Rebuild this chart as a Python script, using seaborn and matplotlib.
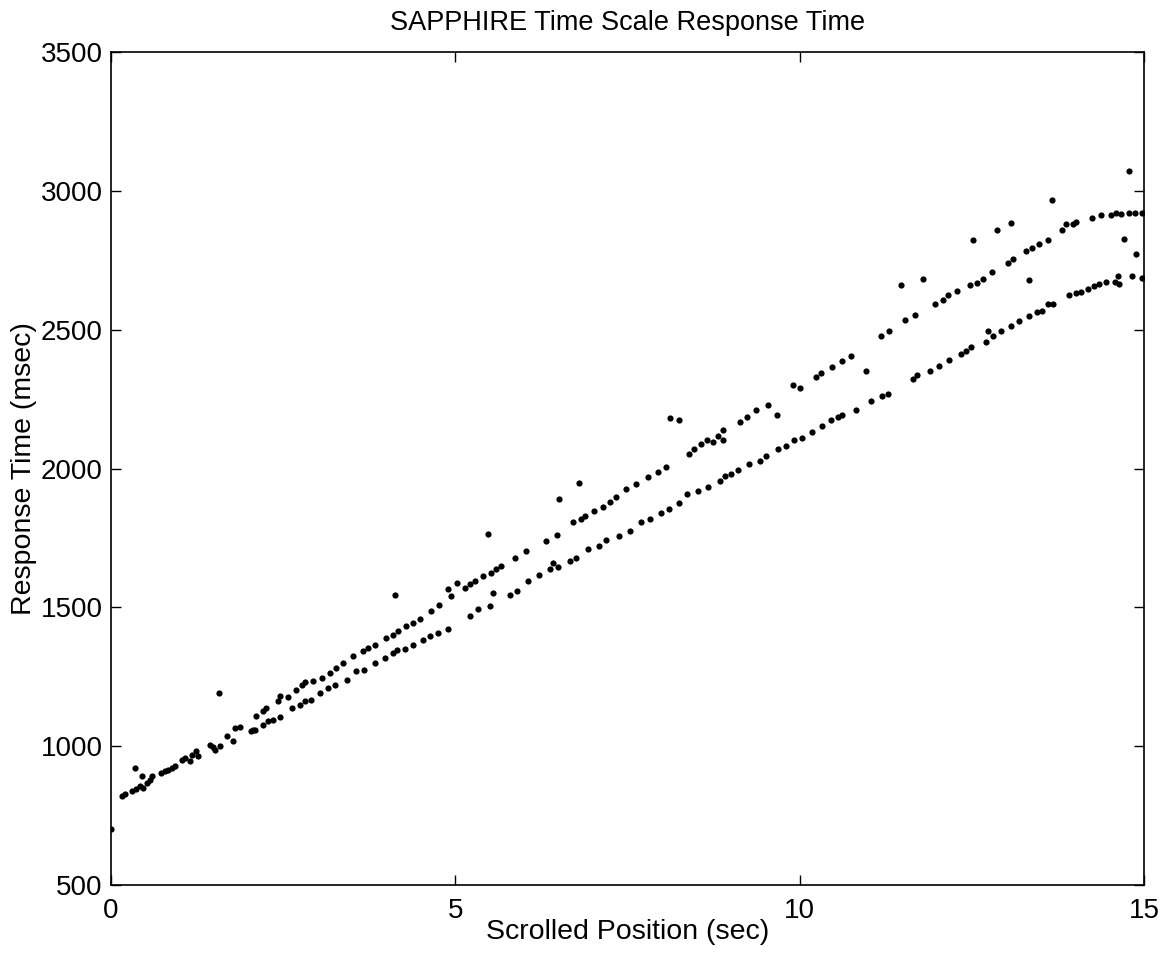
import seaborn as sns
import matplotlib.pyplot as plt
import pandas as pd

# valores (posicao em seg, tempo de resposta em ms)
posicao = [
    0.00, 0.155, 0.20, 0.30, 0.35, 0.37, 0.42, 0.445, 0.47, 0.52, 0.566, 0.59,
    0.73, 0.78, 0.83, 0.88, 0.93, 1.03, 1.07, 1.15, 1.17, 1.24, 1.27, 1.44,
    1.48, 1.51, 1.57, 1.58, 1.68, 1.77, 1.80, 1.87, 2.04, 2.06, 2.09, 2.11,
    2.20, 2.21, 2.25, 2.28, 2.35, 2.43, 2.45, 2.46, 2.57, 2.63, 2.69, 2.74,
    2.77, 2.81, 2.81, 2.91, 2.94, 3.03, 3.06, 3.15, 3.18, 3.25, 3.27, 3.37,
    3.42, 3.52, 3.56, 3.66, 3.68, 3.73, 3.83, 3.83, 3.98, 4.00, 4.10, 4.10,
    4.13, 4.15, 4.17, 4.27, 4.29, 4.39, 4.39, 4.48, 4.53, 4.63, 4.65, 4.75,
    4.77, 4.89, 4.90, 4.94, 5.02, 5.14, 5.21, 5.21, 5.28, 5.33, 5.40, 5.48,
    5.50, 5.52, 5.54, 5.59, 5.67, 5.79, 5.86, 5.89, 6.03, 6.05, 6.22, 6.32,
    6.37, 6.42, 6.47, 6.49, 6.51, 6.66, 6.71, 6.75, 6.79, 6.83, 6.88, 6.92,
    7.02, 7.09, 7.14, 7.19, 7.24, 7.34, 7.38, 7.48, 7.53, 7.63, 7.70, 7.80,
    7.82, 7.94, 7.99, 8.06, 8.11, 8.12, 8.25, 8.25, 8.36, 8.40, 8.47, 8.52,
    8.57, 8.65, 8.67, 8.74, 8.81, 8.84, 8.89, 8.89, 8.91, 9.00, 9.10, 9.13,
    9.24, 9.27, 9.37, 9.42, 9.51, 9.54, 9.67, 9.68, 9.80, 9.91, 9.92, 10.00,
    10.03, 10.18, 10.24, 10.31, 10.33, 10.46, 10.47, 10.55, 10.62, 10.62, 10.74, 10.82,
    10.96, 11.03, 11.18, 11.20, 11.29, 11.30, 11.47, 11.53, 11.65, 11.68, 11.71, 11.79,
    11.89, 11.97, 12.03, 12.08, 12.16, 12.17, 12.28, 12.34, 12.41, 12.47, 12.49, 12.52,
    12.58, 12.66, 12.70, 12.73, 12.79, 12.81, 12.86, 12.92, 13.02, 13.07, 13.07, 13.10,
    13.19, 13.28, 13.33, 13.33, 13.38, 13.45, 13.48, 13.52, 13.60, 13.60, 13.66, 13.68,
    13.81, 13.87, 13.91, 13.97, 14.01, 14.01, 14.08, 14.19, 14.24, 14.28, 14.35, 14.37,
    14.45, 14.52, 14.58, 14.59, 14.63, 14.64, 14.66, 14.71, 14.78, 14.79, 14.82, 14.87,
    14.89, 14.97, 14.97,
]
resposta = [
    701, 819, 828, 837, 921, 845, 855, 891, 849, 867, 879, 891,
    903, 909, 915, 923, 930, 951, 957, 945, 969, 981, 963, 1005,
    997, 987, 1192, 999, 1035, 1017, 1066, 1069, 1053, 1057, 1059, 1108,
    1125, 1078, 1138, 1090, 1096, 1162, 1105, 1180, 1177, 1138, 1204, 1150,
    1222, 1162, 1230, 1168, 1234, 1192, 1246, 1210, 1264, 1222, 1282, 1300,
    1240, 1324, 1270, 1342, 1276, 1354, 1300, 1366, 1318, 1390, 1336, 1402,
    1544, 1348, 1414, 1351, 1432, 1366, 1442, 1457, 1384, 1396, 1487, 1408,
    1507, 1423, 1567, 1541, 1587, 1571, 1468, 1583, 1595, 1493, 1613, 1764,
    1505, 1625, 1550, 1637, 1649, 1543, 1676, 1559, 1703, 1595, 1615, 1739,
    1637, 1661, 1760, 1646, 1890, 1667, 1808, 1679, 1948, 1818, 1829, 1709,
    1847, 1721, 1863, 1743, 1878, 1896, 1757, 1926, 1775, 1944, 1808, 1968,
    1818, 1986, 1839, 2004, 1854, 2181, 2176, 1875, 1908, 2052, 2070, 1920,
    2088, 2104, 1932, 2097, 2116, 1956, 2140, 2104, 1974, 1980, 1995, 2169,
    2185, 2016, 2209, 2028, 2044, 2227, 2193, 2070, 2082, 2301, 2104, 2289,
    2109, 2133, 2329, 2344, 2154, 2173, 2365, 2185, 2191, 2389, 2405, 2212,
    2351, 2242, 2477, 2263, 2269, 2497, 2662, 2534, 2321, 2552, 2337, 2684,
    2353, 2591, 2371, 2606, 2626, 2392, 2639, 2413, 2425, 2662, 2436, 2822,
    2669, 2684, 2455, 2495, 2708, 2477, 2858, 2497, 2742, 2515, 2886, 2754,
    2530, 2783, 2548, 2678, 2795, 2563, 2807, 2569, 2594, 2822, 2967, 2594,
    2858, 2882, 2624, 2879, 2633, 2888, 2636, 2648, 2904, 2656, 2663, 2912,
    2672, 2912, 2672, 2922, 2693, 2666, 2918, 2826, 2921, 3073, 2693, 2922,
    2771, 2686, 2922,
]

df = pd.DataFrame({"posicao": posicao, "resposta": resposta})

sns.set_style("ticks", {"xtick.direction": "in", "ytick.direction": "in"})
plt.rcParams["font.family"] = ["Liberation Sans", "DejaVu Sans"]
plt.rcParams["text.color"] = "black"
plt.rcParams["axes.labelcolor"] = "black"
plt.rcParams["xtick.color"] = "black"
plt.rcParams["ytick.color"] = "black"

fig = plt.figure(figsize=(11.71, 9.6), dpi=100)
ax = fig.add_axes([0.0948, 0.0781, 0.8821, 0.8677])

sns.scatterplot(data=df, x="posicao", y="resposta", color="black", s=20,
                linewidth=0, ax=ax)

ax.set_xlim(0, 15)
ax.set_ylim(500, 3500)
ax.set_xticks([0, 5, 10, 15])
ax.set_yticks([500, 1000, 1500, 2000, 2500, 3000, 3500])
ax.tick_params(axis="both", labelsize=20, length=7, width=1, top=True, right=True)
ax.tick_params(axis="x", pad=9)
ax.tick_params(axis="y", pad=6)
for s in ax.spines.values():
    s.set_linewidth(1.2)
    s.set_color("black")

ax.set_title("SAPPHIRE Time Scale Response Time", fontsize=19.5, pad=16)
ax.set_xlabel("Scrolled Position (sec)", fontsize=20.5, labelpad=-3)
ax.set_ylabel("Response Time (msec)", fontsize=20.5, labelpad=3)

plt.savefig("out.png", dpi=100)
